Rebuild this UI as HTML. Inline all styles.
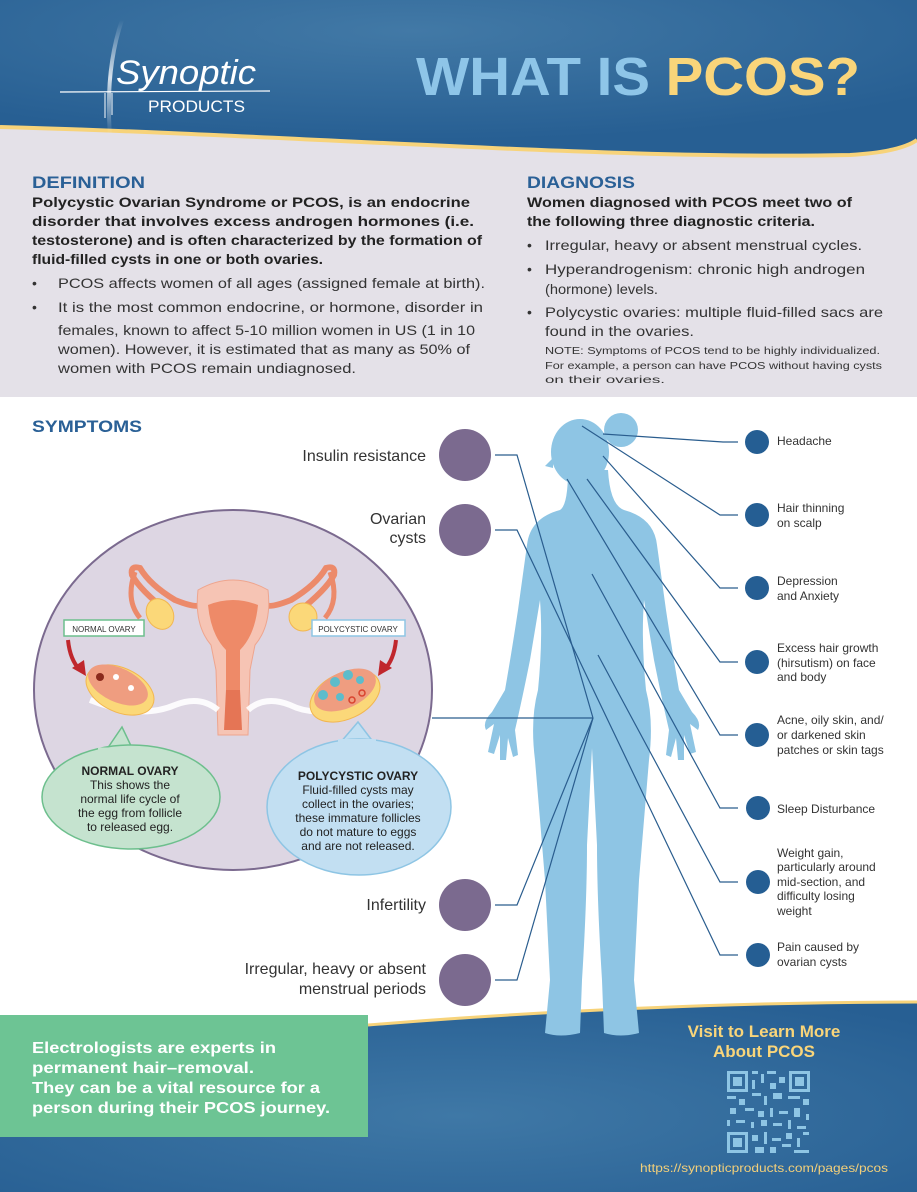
<!DOCTYPE html>
<html><head><meta charset="utf-8"><style>
html,body{margin:0;padding:0;background:#fff}
svg{display:block}
text{font-family:"Liberation Sans",sans-serif}
</style></head><body>
<svg width="917" height="1192" viewBox="0 0 917 1192" xmlns="http://www.w3.org/2000/svg">
<defs>
<radialGradient id="hg" cx="0.45" cy="0.2" r="0.7">
<stop offset="0" stop-color="#4279a6"/><stop offset="1" stop-color="#275f93"/></radialGradient>
<radialGradient id="fg" cx="0.5" cy="0.6" r="0.7">
<stop offset="0" stop-color="#3f78a6"/><stop offset="1" stop-color="#275f93"/></radialGradient>
<linearGradient id="lg" x1="0" y1="0" x2="0" y2="1"><stop offset="0" stop-color="#fff" stop-opacity="0"/><stop offset="0.5" stop-color="#fff" stop-opacity="0.8"/><stop offset="1" stop-color="#fff" stop-opacity="0"/></linearGradient>
</defs>
<rect width="917" height="1192" fill="#fff"/>
<!-- gray section -->
<rect x="0" y="110" width="917" height="287" fill="#e4e1e8"/>
<!-- header -->
<path d="M0,0 H917 V140 Q900,152 850,155 C600,160 300,135 0,127 Z" fill="url(#hg)"/>
<path d="M917,140 Q900,152 850,155 C600,160 300,135 0,127" fill="none" stroke="#f7d37a" stroke-width="4"/>
<!-- logo -->
<path d="M122,20 Q105,70 110,135" stroke="url(#lg)" stroke-width="4" fill="none"/>
<path d="M60,92 L270,91" stroke="#fff" stroke-width="1.2"/>
<path d="M105,93 V118 M112,93 V115" stroke="#fff" stroke-width="1"/>
<text x="116" y="84" font-family="Liberation Serif,serif" font-style="italic" font-size="34" fill="#fff" textLength="140" lengthAdjust="spacingAndGlyphs">Synoptic</text>
<text x="148" y="112" font-size="17" fill="#fff" textLength="97" lengthAdjust="spacingAndGlyphs">PRODUCTS</text>
<text x="416" y="95" font-size="54" font-weight="bold" fill="#8ec5e8" textLength="444" lengthAdjust="spacingAndGlyphs">WHAT IS <tspan fill="#f9d57a">PCOS?</tspan></text>

<!-- definition -->
<g fill="#222">
<text x="32" y="188" font-size="17" font-weight="bold" fill="#2a6096" textLength="113" lengthAdjust="spacingAndGlyphs">DEFINITION</text>
<g font-size="14" font-weight="bold">
<text x="32" y="207" textLength="438" lengthAdjust="spacingAndGlyphs">Polycystic Ovarian Syndrome or PCOS, is an endocrine</text>
<text x="32" y="226" textLength="442" lengthAdjust="spacingAndGlyphs">disorder that involves excess androgen hormones (i.e.</text>
<text x="32" y="245" textLength="450" lengthAdjust="spacingAndGlyphs">testosterone) and is often characterized by the formation of</text>
<text x="32" y="264" textLength="291" lengthAdjust="spacingAndGlyphs">fluid-filled cysts in one or both ovaries.</text>
</g>
<g font-size="14" fill="#333">
<text x="32" y="288">•</text><text x="32" y="312">•</text>
<text x="58" y="288" textLength="427" lengthAdjust="spacingAndGlyphs">PCOS affects women of all ages (assigned female at birth).</text>
<text x="58" y="312" textLength="425" lengthAdjust="spacingAndGlyphs">It is the most common endocrine, or hormone, disorder in</text>
<text x="58" y="335" textLength="417" lengthAdjust="spacingAndGlyphs">females, known to affect 5-10 million women in US (1 in 10</text>
<text x="58" y="354" textLength="412" lengthAdjust="spacingAndGlyphs">women). However, it is estimated that as many as 50% of</text>
<text x="58" y="373" textLength="298" lengthAdjust="spacingAndGlyphs">women with PCOS remain undiagnosed.</text>
</g>
<!-- diagnosis -->
<text x="527" y="188" font-size="17" font-weight="bold" fill="#2a6096" textLength="108" lengthAdjust="spacingAndGlyphs">DIAGNOSIS</text>
<g font-size="14" font-weight="bold">
<text x="527" y="207" textLength="325" lengthAdjust="spacingAndGlyphs">Women diagnosed with PCOS meet two of</text>
<text x="527" y="226" textLength="288" lengthAdjust="spacingAndGlyphs">the following three diagnostic criteria.</text>
</g>
<g font-size="14" fill="#333">
<text x="527" y="250">•</text><text x="527" y="274">•</text><text x="527" y="317">•</text>
<text x="545" y="250" textLength="317" lengthAdjust="spacingAndGlyphs">Irregular, heavy or absent menstrual cycles.</text>
<text x="545" y="274" textLength="320" lengthAdjust="spacingAndGlyphs">Hyperandrogenism: chronic high androgen</text>
<text x="545" y="294" textLength="113" lengthAdjust="spacingAndGlyphs">(hormone) levels.</text>
<text x="545" y="317" textLength="338" lengthAdjust="spacingAndGlyphs">Polycystic ovaries: multiple fluid-filled sacs are</text>
<text x="545" y="336" textLength="149" lengthAdjust="spacingAndGlyphs">found in the ovaries.</text>
</g>
<g font-size="10.5" fill="#333">
<text x="545" y="354" textLength="335" lengthAdjust="spacingAndGlyphs">NOTE: Symptoms of PCOS tend to be highly individualized.</text>
<text x="545" y="369" textLength="337" lengthAdjust="spacingAndGlyphs">For example, a person can have PCOS without having cysts</text>
<text x="545" y="383" textLength="120" lengthAdjust="spacingAndGlyphs">on their ovaries.</text>
</g>
</g>

<!-- footer -->
<path d="M368,1025 C550,1010 750,1002 917,1002 V1192 H0 V1030 Z" fill="url(#fg)"/>
<path d="M368,1025 C550,1010 750,1002 917,1002" fill="none" stroke="#f7d37a" stroke-width="3"/>

<!-- body silhouette -->
<g fill="#8ec5e4">
<ellipse cx="580" cy="452" rx="29" ry="33"/>
<circle cx="621" cy="430" r="17"/>
<path d="M553,458 L545,466 L553,468 Z"/>
<path d="M568,470 Q568,505 560,510 Q530,518 527,545 L518,610 Q512,650 505,690 L492,712 Q482,722 486,730 L494,724 L488,752 L494,754 L500,735 L500,760 L506,760 L508,738 L513,757 L518,755 L515,730 Q522,700 530,660 L540,600 Q543,640 538,690 Q530,720 535,760 Q540,820 545,880 Q548,940 550,980 L545,1033 Q560,1038 580,1033 L582,980 Q587,900 587,845 L592,748 L597,845 Q597,900 602,980 L604,1033 Q620,1038 639,1033 L634,980 Q636,940 639,880 Q644,820 649,760 Q654,720 646,690 Q641,640 644,600 L654,660 Q662,700 669,730 L666,755 L671,757 L676,738 L678,760 L684,760 L684,735 L690,754 L696,752 L690,724 L698,730 Q702,722 692,712 L679,690 Q672,650 666,610 L657,545 Q654,518 624,510 Q610,505 608,470 Z"/>
</g>

<!-- ovary circle -->
<ellipse cx="233" cy="690" rx="199" ry="180" fill="#ddd6e3" stroke="#7b6a8f" stroke-width="2"/>

<!-- connector lines -->
<g stroke="#2a5d8e" stroke-width="1.2" fill="none">
<path d="M432,718 H593"/>
<path d="M495,455 H517 L593,718"/>
<path d="M495,530 H517 L720,955 H738"/>
<path d="M495,905 H517 L593,718"/>
<path d="M495,980 H517 L593,718"/>
<path d="M603,434 L723,442 H738"/>
<path d="M582,426 L720,515 H738"/>
<path d="M603,456 L720,588 H738"/>
<path d="M587,479 L720,662 H738"/>
<path d="M567,479 L720,735 H738"/>
<path d="M592,574 L720,808 H738"/>
<path d="M598,655 L720,882 H738"/>
</g>

<!-- left circles -->
<g fill="#7b6a8f">
<ellipse cx="465" cy="455" rx="26" ry="26"/>
<ellipse cx="465" cy="530" rx="26" ry="26"/>
<ellipse cx="465" cy="905" rx="26" ry="26"/>
<ellipse cx="465" cy="980" rx="26" ry="26"/>
</g>
<!-- right dots -->
<g fill="#255e93">
<circle cx="757" cy="442" r="12"/><circle cx="757" cy="515" r="12"/><circle cx="757" cy="588" r="12"/>
<circle cx="757" cy="662" r="12"/><circle cx="757" cy="735" r="12"/><circle cx="758" cy="808" r="12"/>
<circle cx="758" cy="882" r="12"/><circle cx="758" cy="955" r="12"/>
</g>

<text x="32" y="432" font-size="17" font-weight="bold" fill="#2a6096" textLength="110" lengthAdjust="spacingAndGlyphs">SYMPTOMS</text>
<g font-size="16" fill="#333" text-anchor="end">
<text x="426" y="461">Insulin resistance</text>
<text x="426" y="524">Ovarian</text><text x="426" y="543">cysts</text>
<text x="426" y="910">Infertility</text>
<text x="426" y="974">Irregular, heavy or absent</text>
<text x="426" y="994">menstrual periods</text>
</g>
<g font-size="12" fill="#333">
<text x="777" y="445">Headache</text>
<text x="777" y="512">Hair thinning</text><text x="777" y="527">on scalp</text>
<text x="777" y="585">Depression</text><text x="777" y="600">and Anxiety</text>
<text x="777" y="652">Excess hair growth</text><text x="777" y="667">(hirsutism) on face</text><text x="777" y="681">and body</text>
<text x="777" y="724">Acne, oily skin, and/</text><text x="777" y="739">or darkened skin</text><text x="777" y="754">patches or skin tags</text>
<text x="777" y="813">Sleep Disturbance</text>
<text x="777" y="857">Weight gain,</text><text x="777" y="871">particularly around</text><text x="777" y="886">mid-section, and</text><text x="777" y="900">difficulty losing</text><text x="777" y="915">weight</text>
<text x="777" y="951">Pain caused by</text><text x="777" y="966">ovarian cysts</text>
</g>

<!-- uterus illustration -->
<g>
<path d="M168,612 Q140,590 132,575 Q130,565 140,568 Q150,585 175,600 Q195,608 200,605" stroke="#ec8a6a" stroke-width="6" fill="none"/>
<path d="M298,612 Q326,590 334,575 Q336,565 326,568 Q316,585 291,600 Q271,608 266,605" stroke="#ec8a6a" stroke-width="6" fill="none"/>
<path d="M135,572 Q125,600 140,618" stroke="#ec8a6a" stroke-width="5" fill="none"/>
<path d="M330,572 Q340,600 325,618" stroke="#ec8a6a" stroke-width="5" fill="none"/>
<ellipse cx="160" cy="614" rx="13" ry="16" fill="#fbd879" stroke="#f2b650" transform="rotate(-30 160 614)"/>
<ellipse cx="303" cy="617" rx="14" ry="14" fill="#fbd879" stroke="#f2b650"/>
<path d="M198,590 Q233,570 268,590 Q272,625 255,645 L250,670 L248,735 L218,735 L216,670 L211,645 Q194,625 198,590 Z" fill="#f6c4b4" stroke="#eea58e"/>
<path d="M208,605 Q233,595 258,605 Q255,635 240,650 L240,690 L226,690 L226,650 Q211,635 208,605 Z" fill="#ee8a68"/>
<path d="M226,690 L240,690 L242,730 L224,730 Z" fill="#e57555"/>
<path d="M90,700 Q140,720 175,705 Q200,695 218,710" stroke="#fff" stroke-width="6" fill="none" opacity="0.9"/>
<path d="M248,710 Q265,695 290,705 Q320,720 360,700" stroke="#fff" stroke-width="6" fill="none" opacity="0.9"/>
<ellipse cx="120" cy="690" rx="36" ry="22" fill="#fbd879" stroke="#f2b650" transform="rotate(25 120 690)"/>
<ellipse cx="118" cy="685" rx="32" ry="17" fill="#ef9d80" transform="rotate(25 118 685)"/>
<circle cx="100" cy="677" r="4" fill="#8a2a1c"/><circle cx="116" cy="677" r="3" fill="#fff"/><circle cx="131" cy="688" r="3" fill="#fff"/>
<ellipse cx="345" cy="696" rx="37" ry="23" fill="#fbd879" stroke="#f2b650" transform="rotate(-25 345 696)"/>
<ellipse cx="345" cy="690" rx="33" ry="18" fill="#ef9d80" transform="rotate(-25 345 690)"/>
<g fill="#5dbccb"><circle cx="323" cy="695" r="5"/><circle cx="335" cy="682" r="5"/><circle cx="348" cy="675" r="5"/><circle cx="360" cy="680" r="4"/><circle cx="340" cy="697" r="4"/></g>
<g fill="none" stroke="#d9432e" stroke-width="1.5"><circle cx="352" cy="700" r="3"/><circle cx="362" cy="693" r="3"/></g>
<rect x="64" y="620" width="80" height="16" fill="#fff" stroke="#6dbf8d" stroke-width="1.5"/>
<text x="104" y="632" font-size="8" fill="#333" text-anchor="middle">NORMAL OVARY</text>
<rect x="312" y="620" width="93" height="16" fill="#fff" stroke="#8ec5e4" stroke-width="1.5"/>
<text x="358" y="632" font-size="8" fill="#333" text-anchor="middle">POLYCYSTIC OVARY</text>
<path d="M68,640 Q70,660 80,670" stroke="#c0272d" stroke-width="4" fill="none"/>
<path d="M72,668 L86,676 L84,660 Z" fill="#c0272d"/>
<path d="M396,640 Q394,660 384,670" stroke="#c0272d" stroke-width="4" fill="none"/>
<path d="M392,668 L378,676 L380,660 Z" fill="#c0272d"/>
</g>

<!-- bubbles -->
<path d="M105,752 L122,727 L133,750" fill="#c5e3cf" stroke="#6dbf8d" stroke-width="1.5"/>
<ellipse cx="131" cy="797" rx="89" ry="52" fill="#c5e3cf" stroke="#6dbf8d" stroke-width="1.5"/>
<path d="M98,749 L138,749" stroke="#c5e3cf" stroke-width="3"/>
<path d="M340,743 L358,722 L374,743" fill="#c2dff2" stroke="#8ec5e4" stroke-width="1.5"/>
<ellipse cx="359" cy="807" rx="92" ry="68" fill="#c2dff2" stroke="#8ec5e4" stroke-width="1.5"/>
<path d="M338,741 L376,741" stroke="#c2dff2" stroke-width="4"/>
<g font-size="12" fill="#222" text-anchor="middle">
<text x="130" y="775" font-weight="bold">NORMAL OVARY</text>
<text x="130" y="789">This shows the</text>
<text x="130" y="803">normal life cycle of</text>
<text x="130" y="817">the egg from follicle</text>
<text x="130" y="831">to released egg.</text>
<text x="358" y="780" font-weight="bold">POLYCYSTIC OVARY</text>
<text x="358" y="794">Fluid-filled cysts may</text>
<text x="358" y="808">collect in the ovaries;</text>
<text x="358" y="822">these immature follicles</text>
<text x="358" y="836">do not mature to eggs</text>
<text x="358" y="850">and are not released.</text>
</g>

<!-- green box -->
<rect x="0" y="1015" width="368" height="122" fill="#6dc494"/>
<g font-size="16" font-weight="bold" fill="#fff">
<text x="32" y="1053" textLength="244" lengthAdjust="spacingAndGlyphs">Electrologists are experts in</text>
<text x="32" y="1073" textLength="222" lengthAdjust="spacingAndGlyphs">permanent hair–removal.</text>
<text x="32" y="1093" textLength="288" lengthAdjust="spacingAndGlyphs">They can be a vital resource for a</text>
<text x="32" y="1113" textLength="298" lengthAdjust="spacingAndGlyphs">person during their PCOS journey.</text>
</g>
<g font-size="17" font-weight="bold" fill="#f9d57a" text-anchor="middle">
<text x="764" y="1037">Visit to Learn More</text>
<text x="764" y="1057">About PCOS</text>
</g>
<text x="640" y="1172" font-size="12" fill="#f2cf7a" textLength="248" lengthAdjust="spacingAndGlyphs">https://synopticproducts.com/pages/pcos</text>

<!-- QR -->
<g fill="#8ec5e4">
<path fill-rule="evenodd" d="M727,1071 h21 v21 h-21 Z M730,1074 v15 h15 v-15 Z"/><rect x="733" y="1077" width="9" height="9"/>
<path fill-rule="evenodd" d="M789,1071 h21 v21 h-21 Z M792,1074 v15 h15 v-15 Z"/><rect x="795" y="1077" width="9" height="9"/>
<path fill-rule="evenodd" d="M727,1132 h21 v21 h-21 Z M730,1135 v15 h15 v-15 Z"/><rect x="733" y="1138" width="9" height="9"/>
<rect x="752" y="1071" width="6" height="3"/><rect x="761" y="1074" width="3" height="9"/><rect x="767" y="1071" width="9" height="3"/><rect x="779" y="1077" width="6" height="6"/><rect x="752" y="1080" width="3" height="9"/><rect x="770" y="1083" width="6" height="6"/>
<rect x="727" y="1096" width="9" height="3"/><rect x="739" y="1099" width="6" height="6"/><rect x="752" y="1093" width="9" height="3"/><rect x="764" y="1096" width="3" height="9"/><rect x="773" y="1093" width="9" height="6"/><rect x="788" y="1096" width="12" height="3"/><rect x="803" y="1099" width="6" height="6"/>
<rect x="730" y="1108" width="6" height="6"/><rect x="745" y="1108" width="9" height="3"/><rect x="758" y="1111" width="6" height="6"/><rect x="770" y="1108" width="3" height="9"/><rect x="779" y="1111" width="9" height="3"/><rect x="794" y="1108" width="6" height="9"/><rect x="806" y="1114" width="3" height="6"/>
<rect x="727" y="1120" width="3" height="6"/><rect x="736" y="1120" width="9" height="3"/><rect x="751" y="1122" width="3" height="6"/><rect x="761" y="1120" width="6" height="6"/><rect x="773" y="1123" width="9" height="3"/><rect x="788" y="1120" width="3" height="9"/><rect x="797" y="1126" width="9" height="3"/>
<rect x="752" y="1135" width="6" height="6"/><rect x="764" y="1132" width="3" height="12"/><rect x="772" y="1138" width="9" height="3"/><rect x="786" y="1133" width="6" height="6"/><rect x="797" y="1138" width="3" height="9"/><rect x="803" y="1132" width="6" height="3"/><rect x="755" y="1147" width="9" height="6"/><rect x="770" y="1147" width="6" height="6"/><rect x="782" y="1144" width="9" height="3"/><rect x="794" y="1150" width="15" height="3"/>
</g>
</svg>
</body></html>
